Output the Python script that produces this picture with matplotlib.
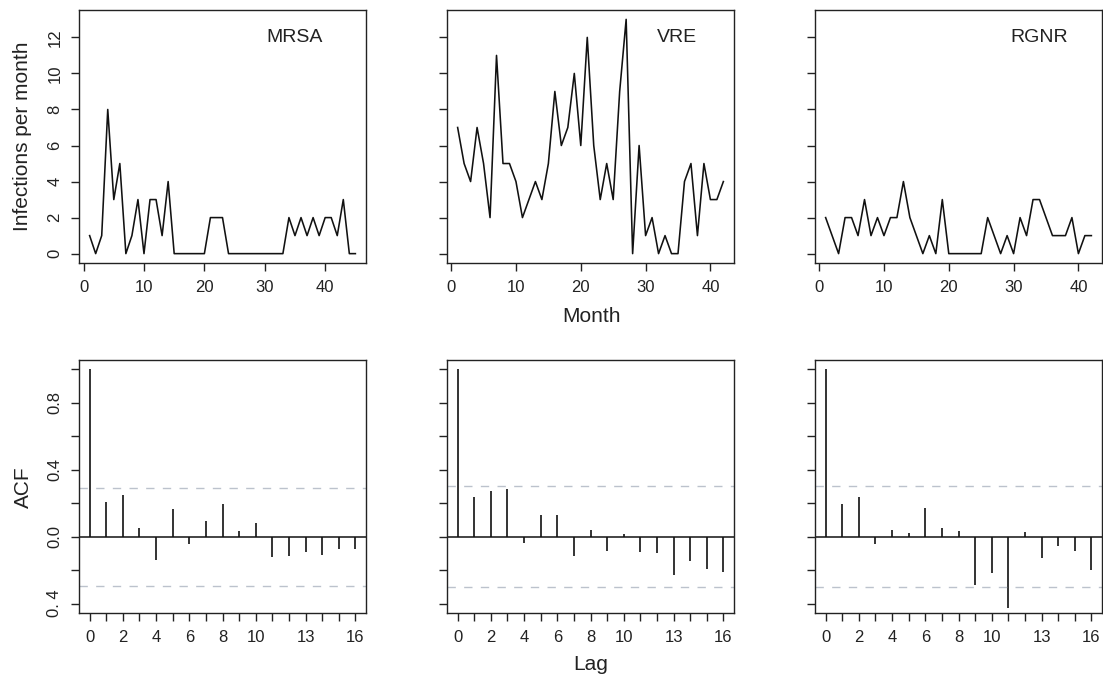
import numpy as np
import matplotlib
matplotlib.use("Agg")
import matplotlib.pyplot as plt

plt.rcParams['font.family'] = ['Liberation Sans', 'DejaVu Sans']

# monthly infection counts
mrsa = [1, 0, 1, 8, 3, 5, 0, 1, 3, 0, 3, 3, 1, 4, 0, 0, 0, 0, 0, 0,
        2, 2, 2, 0, 0, 0, 0, 0, 0, 0, 0, 0, 0, 2, 1, 2, 1, 2, 1, 2,
        2, 1, 3, 0, 0]
vre = [7, 5, 4, 7, 5, 2, 11, 5, 5, 4, 2, 3, 4, 3, 5, 9, 6, 7, 10, 6,
       12, 6, 3, 5, 3, 9, 13, 0, 6, 1, 2, 0, 1, 0, 0, 4, 5, 1, 5, 3,
       3, 4]
rgnr = [2, 1, 0, 2, 2, 1, 3, 1, 2, 1, 2, 2, 4, 2, 1, 0, 1, 0, 3, 0,
        0, 0, 0, 0, 0, 2, 1, 0, 1, 0, 2, 1, 3, 3, 2, 1, 1, 1, 2, 0,
        1, 1]

# autocorrelations, lags 0..16
acf_mrsa = [1.0, 0.209, 0.249, 0.052, -0.139, 0.163, -0.042, 0.096, 0.197, 0.034,
            0.084, -0.120, -0.114, -0.092, -0.112, -0.076, -0.074]
acf_vre = [1.0, 0.237, 0.275, 0.283, -0.038, 0.129, 0.131, -0.116, 0.042, -0.084,
           0.016, -0.090, -0.100, -0.229, -0.147, -0.195, -0.211]
acf_rgnr = [1.0, 0.197, 0.239, -0.042, 0.040, 0.022, 0.173, 0.050, 0.034, -0.289,
            -0.215, -0.428, 0.028, -0.127, -0.056, -0.084, -0.199]

names = ['MRSA', 'VRE', 'RGNR']
series = [mrsa, vre, rgnr]
acfs = [acf_mrsa, acf_vre, acf_rgnr]
label_x = [35, 34.8, 34]

W, H = 1103, 679
fig = plt.figure(figsize=(W / 100, H / 100), dpi=100)


def px_axes(x0, y0, x1, y1):
    return fig.add_axes([x0 / W, 1 - y1 / H, (x1 - x0) / W, (y1 - y0) / H])


def style(ax):
    for s in ax.spines.values():
        s.set_linewidth(1.0)
        s.set_color('#222222')
    ax.tick_params(direction='out', length=6, width=1.0, colors='#222222',
                   labelsize=12, pad=6)


lefts = [79, 447, 815]
for i in range(3):
    y = series[i]
    n = len(y)
    x = np.arange(1, n + 1)

    # time series panel
    ax = px_axes(lefts[i], 10, lefts[i] + 287, 263)
    style(ax)
    ax.plot(x, y, color='#111111', lw=1.15)
    pad = (n - 1) * 0.04
    ax.set_xlim(1 - pad, n + pad)
    ax.set_ylim(-0.52, 13.52)
    ax.set_xticks([0, 10, 20, 30, 40])
    ax.set_yticks(range(0, 13, 2))
    if i == 0:
        ax.tick_params(axis='y', labelrotation=90)
        for lab in ax.get_yticklabels():
            lab.set_va('center')
    else:
        ax.set_yticklabels([])
    ax.text(label_x[i], 12, names[i], fontsize=14, ha='center', va='center',
            color='#222222')

    # ACF panel
    ax2 = px_axes(lefts[i], 360, lefts[i] + 287, 613)
    style(ax2)
    lags = np.arange(len(acfs[i]))
    ax2.vlines(lags, 0, acfs[i], color='#111111', lw=1.2)
    ax2.axhline(0, color='#111111', lw=1.1)
    ci = 1.96 / np.sqrt(n)
    for c in (ci, -ci):
        ax2.axhline(c, color='#bcc2cc', lw=1.0, ls=(0, (6, 6)))
    ax2.set_xlim(-0.64, 16.64)
    ax2.set_ylim(-0.456, 1.056)
    ax2.set_xticks(lags)
    ax2.set_xticklabels([str(l) if l in (0, 2, 4, 6, 8, 10, 13, 16) else ''
                         for l in lags])
    yt = [-0.4, -0.2, 0.0, 0.2, 0.4, 0.6, 0.8, 1.0]
    ax2.set_yticks(yt)
    if i == 0:
        ax2.set_yticklabels(['0. 4', '', '0.0', '', '0.4', '', '0.8', ''])
        ax2.tick_params(axis='y', labelrotation=90)
        for lab in ax2.get_yticklabels():
            lab.set_va('center')
    else:
        ax2.set_yticklabels([])

fig.text(23 / W, 1 - 136 / H, 'Infections per month', rotation=90,
         ha='center', va='center', fontsize=15, color='#222222')
fig.text(23 / W, 1 - 487 / H, 'ACF', rotation=90,
         ha='center', va='center', fontsize=15, color='#222222')
fig.text(591 / W, 1 - 317 / H, 'Month', ha='center', va='center',
         fontsize=15, color='#222222')
fig.text(591 / W, 1 - 664 / H, 'Lag', ha='center', va='center',
         fontsize=15, color='#222222')

fig.savefig('out.png', dpi=100)
